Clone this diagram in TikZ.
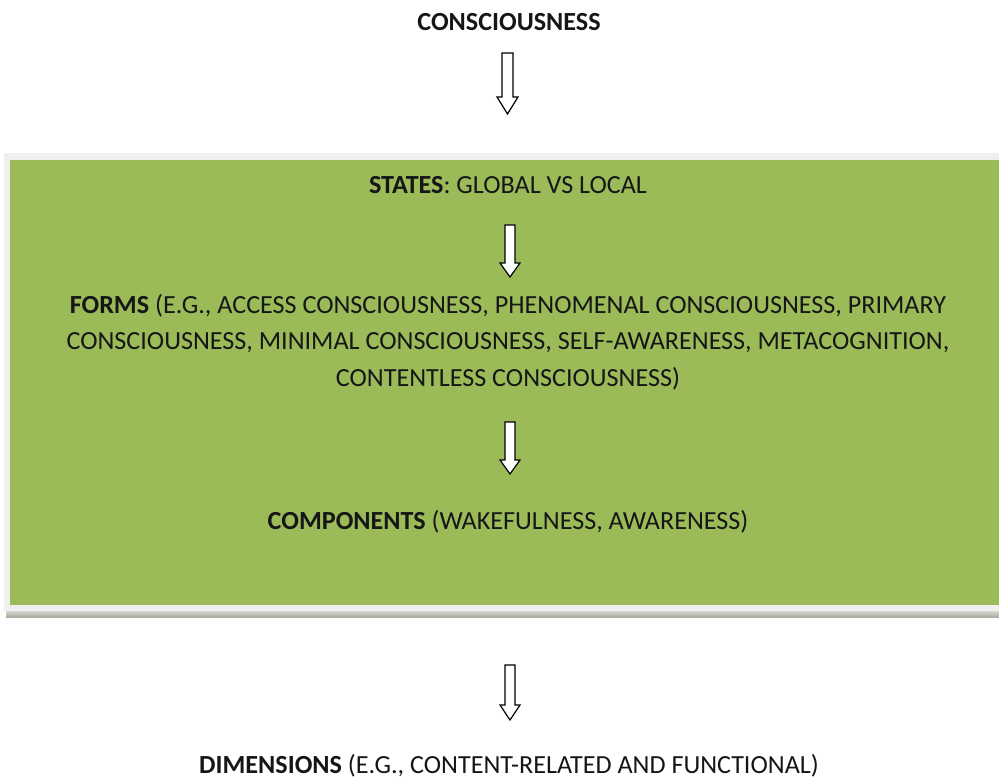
\documentclass[tikz,border=0pt]{standalone}
\usepackage{fontspec}
\setmainfont{Carlito}
\definecolor{boxgreen}{HTML}{9BBB59}
\definecolor{framegray}{HTML}{EFEFEF}
\definecolor{shadowtop}{HTML}{DCDDD8}
\definecolor{shadowbot}{HTML}{A8AE9E}
\definecolor{txt}{HTML}{161616}
\newcommand\bkarrow[6]{% centre x, top, head start, tip, half shaft, half head
  \draw[blockarrow] (#1-#5,#2) -- (#1+#5,#2) -- (#1+#5,#3) -- (#1+#6,#3)
    -- (#1,#4) -- (#1-#6,#3) -- (#1-#5,#3) -- cycle;}
\tikzset{
  blockarrow/.style={draw=black, fill=white, line width=0.9pt, line join=miter},
  lbl/.style={inner sep=0pt, text=txt, align=center,
    font=\fontsize{19.6}{27.4}\selectfont},
}
\begin{document}
\begin{tikzpicture}[x=0.75pt,y=-0.75pt]
\useasboundingbox (0,0) rectangle (999,780);
% frame and green panel
\fill[framegray] (4,153) rectangle (999,611);
\shade[top color=shadowtop, bottom color=shadowbot] (6,610) rectangle (999,617);
\fill[framegray] (4,606) rectangle (999,611);
\fill[boxgreen] (10,160) rectangle (999,605);
% texts
\node[lbl] (cons) at (509,22) {\textbf{CONSCIOUSNESS}};
\node[lbl] (states) at (508,185) {\textbf{STATES}: GLOBAL VS LOCAL};
\node[lbl] (forms) at (508,342) {\textbf{FORMS} (E.G., ACCESS CONSCIOUSNESS, PHENOMENAL CONSCIOUSNESS, PRIMARY\\
CONSCIOUSNESS, MINIMAL CONSCIOUSNESS, SELF-AWARENESS, METACOGNITION,\\
CONTENTLESS CONSCIOUSNESS)};
\node[lbl] (comp) at (508,522) {\textbf{COMPONENTS} (WAKEFULNESS, AWARENESS)};
\node[lbl] (dims) at (509,766) {\textbf{DIMENSIONS} (E.G., CONTENT-RELATED AND FUNCTIONAL)};
% block arrows
\bkarrow{507.5}{53}{97}{114}{5.5}{10.5}
\bkarrow{510}{225}{263}{277}{5}{10}
\bkarrow{510}{422}{460}{474}{5}{10}
\bkarrow{510}{665}{705}{720}{5}{10}
\end{tikzpicture}
\end{document}
